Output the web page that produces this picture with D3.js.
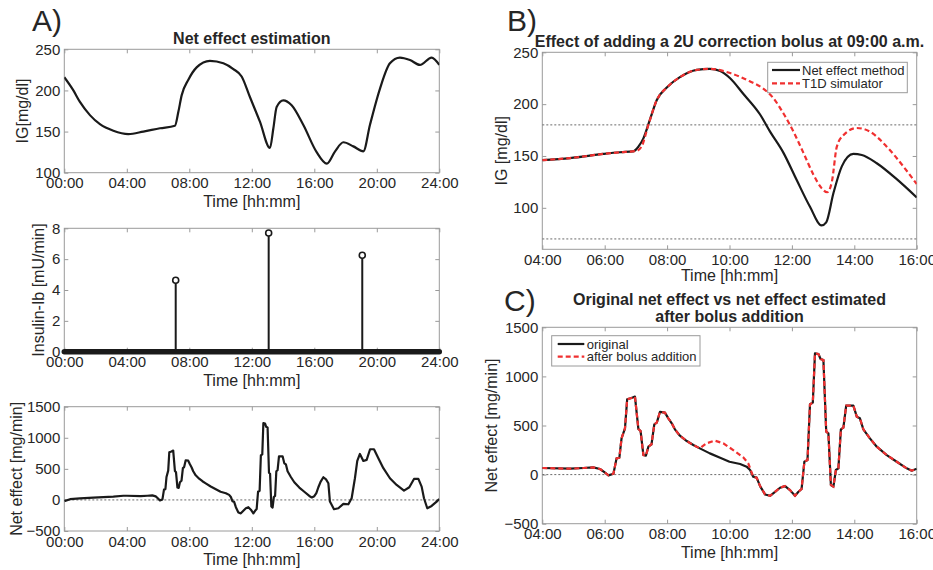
<!DOCTYPE html>
<html>
<head>
<meta charset="utf-8">
<script src="https://cdn.jsdelivr.net/npm/d3@7/dist/d3.min.js"></script>
<style>
  html, body { margin: 0; padding: 0; background: #fff; }
  svg { display: block; font-family: "Liberation Sans", Arial, Helvetica, sans-serif; }
</style>
</head>
<body>
<svg id="chart" width="933" height="570"></svg>
<script>
// ---------------- DATA ----------------
// Panel A (top): interstitial glucose over 24 h
const igTime  = [0, 0.58, 1.0, 1.64, 2.28, 3.14, 4.1, 5.06, 6.12, 7.08, 7.3, 7.51, 7.94, 8.47, 9.32, 10.18, 10.82, 11.35, 11.88, 12.52, 13.16, 13.38, 13.59, 14.02, 14.55, 15.3, 16.15, 16.8, 17.33, 17.86, 18.5, 19.14, 19.56, 20.2, 20.84, 21.48, 22.12, 22.76, 23.51, 24];
const igValue = [216, 200, 186, 170, 159, 151, 147, 150, 154, 157, 174, 194, 213, 228, 236, 233, 226, 217, 192, 162, 130, 154, 180, 188, 182, 158, 125, 111, 126, 137, 132, 126, 158, 202, 233, 240, 237, 231, 240, 231];

// Panel A (middle): insulin boluses (stems)
const insulinTime  = [7.13, 13.08, 19.07];
const insulinValue = [4.63, 7.7, 6.25];
const insulinZeroSpan = [0, 24];

// Panel A (bottom) & C: net effect (original)
const netTime = [0, 0.37, 1.0, 1.86, 2.5, 3.14, 3.78, 4.0, 4.89, 5.31, 5.63, 5.85, 6.0, 6.12, 6.28, 6.38, 6.47, 6.54, 6.65, 6.72, 6.86, 6.97, 7.08, 7.15, 7.24, 7.32, 7.4, 7.5, 7.59, 7.67, 7.77, 7.93, 8.04, 8.15, 8.25, 8.41, 8.63, 8.84, 9.05, 9.37, 9.7, 10.0, 10.34, 10.55, 10.66, 10.76, 10.87, 10.98, 11.14, 11.3, 11.46, 11.62, 11.78, 11.94, 12.1, 12.21, 12.31, 12.4, 12.5, 12.58, 12.67, 12.74, 12.85, 12.92, 13.01, 13.1, 13.17, 13.25, 13.33, 13.41, 13.49, 13.57, 13.65, 13.74, 13.97, 14.08, 14.18, 14.29, 14.5, 14.72, 15.04, 15.36, 15.68, 15.84, 16.0, 16.13, 16.26, 16.4, 16.58, 16.75, 16.9, 17.0, 17.26, 17.54, 17.86, 18.18, 18.39, 18.6, 18.75, 18.92, 19.14, 19.35, 19.57, 19.82, 20.1, 20.42, 20.84, 21.27, 21.74, 22.08, 22.38, 22.66, 22.87, 23.02, 23.23, 23.51, 23.83, 24.0];
const netValue = [-20, 12, 25, 37, 45, 53, 67, 67, 60, 67, 74, 57, 23, -8, 9, 165, 172, 369, 471, 767, 780, 794, 464, 444, 199, 192, 284, 308, 512, 529, 638, 631, 573, 522, 461, 396, 342, 301, 267, 216, 172, 131, 108, 81, 47, -21, -31, -117, -202, -216, -175, -134, -117, -158, -216, -175, -147, 131, 148, 716, 733, 1235, 1228, 1177, 1167, 437, 420, -106, -123, 47, 64, 461, 478, 702, 702, 590, 573, 461, 369, 284, 199, 131, 64, 40, 60, 110, 204, 290, 365, 330, 269, -27, -150, -134, -64, -70, 27, 349, 627, 740, 627, 644, 815, 815, 670, 510, 349, 241, 150, 204, 338, 338, 214, 27, -134, -97, -27, 16];

// Panel C: net effect after bolus addition (differs from original between ~09:00 and ~10:50)
const afterBumpTime  = [9.05, 9.26, 9.53, 9.8, 10.12, 10.44, 10.6, 10.74];
const afterBumpValue = [267, 318, 346, 318, 250, 176, 115, -4];

// Panel B: IG after adding a 2U correction bolus
const methodTime = [4, 4.89, 5.96, 6.49, 6.92, 7.08, 7.24, 7.45, 7.67, 7.99, 8.41, 8.95, 9.37, 9.7, 10.02, 10.44, 10.98, 11.3, 11.73, 12.15, 12.58, 12.95, 13.1, 13.33, 13.6, 13.97, 14.24, 14.72, 15.36, 16];
const methodIG   = [146, 148, 152, 153.6, 154.5, 159, 167, 185, 204, 216, 226, 233, 234, 232, 225, 210, 190, 173.5, 153, 127, 101, 83, 86, 114, 140, 152, 151, 143, 127.6, 110];
const simTime = [4, 4.89, 5.96, 6.49, 7.02, 7.18, 7.4, 7.67, 7.99, 8.41, 8.95, 9.37, 10.02, 10.65, 11.08, 11.4, 11.73, 12.05, 12.37, 12.69, 12.95, 13.13, 13.28, 13.44, 13.65, 14.08, 14.5, 15.04, 15.57, 16];
const simIG   = [146, 148, 152, 153.6, 155, 159, 180, 204, 216, 226, 233, 234, 230, 222, 215, 206, 191, 173.5, 153, 132, 119, 115, 125, 159, 170, 177, 173.5, 159, 140, 123];
const thresholds = [70, 180];

// Tick values / labels
const dayTicks = [0, 4, 8, 12, 16, 20, 24];
const dayTickLabels = ["00:00", "04:00", "08:00", "12:00", "16:00", "20:00", "24:00"];
const zoomTicks = [4, 6, 8, 10, 12, 14, 16];
const zoomTickLabels = ["04:00", "06:00", "08:00", "10:00", "12:00", "14:00", "16:00"];
const igTicks = [100, 150, 200, 250];
const insulinTicks = [0, 2, 4, 6, 8];
const netTicks = [-500, 0, 500, 1000, 1500];

// ---------------- DRAWING ----------------
const svg = d3.select("#chart");
svg.append("rect").attr("width", 933).attr("height", 570).attr("fill", "#fff");

const TXT = "#262626", FRAME = "#9a9a9a", RED = "#f03030";
let clipId = 0;

function panel(o) {
  const x = d3.scaleLinear().domain(o.xDomain).range([o.left, o.right]);
  const y = d3.scaleLinear().domain(o.yDomain).range([o.bottom, o.top]);
  const g = svg.append("g");
  const fmt = d => o.xLabels[o.xTicks.indexOf(d)];
  const ax = (gen, tr) => {
    const a = g.append("g").attr("transform", tr).call(gen);
    a.select(".domain").remove();
    a.selectAll(".tick line").attr("stroke", FRAME);
    a.selectAll("text").attr("fill", TXT).attr("font-size", 15).attr("font-family", null);
    return a;
  };
  ax(d3.axisBottom(x).tickValues(o.xTicks).tickFormat(fmt).tickSize(-4).tickPadding(5), `translate(0,${o.bottom})`);
  ax(d3.axisTop(x).tickValues(o.xTicks).tickFormat("").tickSize(-4), `translate(0,${o.top})`);
  ax(d3.axisLeft(y).tickValues(o.yTicks).tickFormat(d3.format("d")).tickSize(-4).tickPadding(4), `translate(${o.left},0)`);
  ax(d3.axisRight(y).tickValues(o.yTicks).tickFormat("").tickSize(-4), `translate(${o.right},0)`);
  g.append("rect").attr("x", o.left).attr("y", o.top).attr("width", o.right - o.left).attr("height", o.bottom - o.top)
    .attr("fill", "none").attr("stroke", FRAME).attr("stroke-width", 1);
  // labels
  g.append("text").attr("x", (o.left + o.right) / 2).attr("y", o.bottom + o.xlabOff).attr("text-anchor", "middle")
    .attr("font-size", 16).attr("fill", TXT).text("Time [hh:mm]");
  g.append("text").attr("transform", `translate(${o.ylabX},${(o.top + o.bottom) / 2}) rotate(-90)`).attr("text-anchor", "middle")
    .attr("font-size", 16).attr("fill", TXT).text(o.ylabel);
  const id = "clip" + (clipId++);
  svg.append("clipPath").attr("id", id).append("rect").attr("x", o.left).attr("y", o.top - 2)
    .attr("width", o.right - o.left).attr("height", o.bottom - o.top + 4);
  const plot = g.append("g").attr("clip-path", `url(#${id})`);
  return { x, y, g, plot };
}

const A = { left: 64.3, right: 439.3 };
const BC = { left: 542.3, right: 916.7 };

// ---- Panel A top ----
const p1 = panel({ ...A, top: 49.3, bottom: 172.7, xDomain: [0, 24], yDomain: [100, 250], xTicks: dayTicks, xLabels: dayTickLabels,
  yTicks: igTicks, ylabel: "IG[mg/dl]", ylabX: 28, xlabOff: 34 });
p1.plot.append("path").datum(igTime.map((t, i) => [t, igValue[i]]))
  .attr("fill", "none").attr("stroke", "#1a1a1a").attr("stroke-width", 2.2)
  .attr("d", d3.line().x(d => p1.x(d[0])).y(d => p1.y(d[1])).curve(d3.curveMonotoneX));
svg.append("text").attr("x", 251.8).attr("y", 44).attr("text-anchor", "middle").attr("font-size", 16)
  .attr("font-weight", "bold").attr("fill", TXT).text("Net effect estimation");

// ---- Panel A middle ----
const p2 = panel({ ...A, top: 228.3, bottom: 351.7, xDomain: [0, 24], yDomain: [0, 8], xTicks: dayTicks, xLabels: dayTickLabels,
  yTicks: insulinTicks, ylabel: "Insulin-Ib [mU/min]", ylabX: 44, xlabOff: 34 });
p2.g.append("line").attr("x1", p2.x(insulinZeroSpan[0])).attr("x2", p2.x(insulinZeroSpan[1]))
  .attr("y1", p2.y(0)).attr("y2", p2.y(0)).attr("stroke", "#1a1a1a").attr("stroke-width", 5.5).attr("stroke-linecap", "round");
insulinTime.forEach((t, i) => {
  p2.g.append("line").attr("x1", p2.x(t)).attr("x2", p2.x(t)).attr("y1", p2.y(0)).attr("y2", p2.y(insulinValue[i]))
    .attr("stroke", "#1a1a1a").attr("stroke-width", 2);
  p2.g.append("circle").attr("cx", p2.x(t)).attr("cy", p2.y(insulinValue[i])).attr("r", 3)
    .attr("fill", "#fff").attr("stroke", "#1a1a1a").attr("stroke-width", 1.6);
});

// ---- Panel A bottom ----
const p3 = panel({ ...A, top: 406.7, bottom: 531, xDomain: [0, 24], yDomain: [-500, 1500], xTicks: dayTicks, xLabels: dayTickLabels,
  yTicks: netTicks, ylabel: "Net effect [mg/min]", ylabX: 22, xlabOff: 34 });
p3.plot.append("line").attr("x1", p3.x(0)).attr("x2", p3.x(24)).attr("y1", p3.y(0)).attr("y2", p3.y(0))
  .attr("stroke", "#444").attr("stroke-width", 0.8).attr("stroke-dasharray", "2,2");
const netData = netTime.map((t, i) => [t, netValue[i]]);
p3.plot.append("path").datum(netData).attr("fill", "none").attr("stroke", "#1a1a1a").attr("stroke-width", 2.2)
  .attr("stroke-linejoin", "round")
  .attr("d", d3.line().x(d => p3.x(d[0])).y(d => p3.y(d[1])));

// ---- Panel B ----
const pB = panel({ ...BC, top: 52.3, bottom: 249.3, xDomain: [4, 16], yDomain: [60, 250], xTicks: zoomTicks, xLabels: zoomTickLabels,
  yTicks: igTicks, ylabel: "IG [mg/dl]", ylabX: 506.5, xlabOff: 32 });
thresholds.forEach(v => {
  pB.plot.append("line").attr("x1", pB.x(4)).attr("x2", pB.x(16)).attr("y1", pB.y(v)).attr("y2", pB.y(v))
    .attr("stroke", "#444").attr("stroke-width", 0.8).attr("stroke-dasharray", "2,2");
});
const lineB = d3.line().x(d => pB.x(d[0])).y(d => pB.y(d[1])).curve(d3.curveMonotoneX);
pB.plot.append("path").datum(methodTime.map((t, i) => [t, methodIG[i]])).attr("fill", "none")
  .attr("stroke", "#1a1a1a").attr("stroke-width", 2.2).attr("d", lineB);
pB.plot.append("path").datum(simTime.map((t, i) => [t, simIG[i]])).attr("fill", "none")
  .attr("stroke", RED).attr("stroke-width", 2.2).attr("stroke-dasharray", "5,3").attr("d", lineB);
svg.append("text").attr("x", 729.5).attr("y", 47).attr("text-anchor", "middle").attr("font-size", 16)
  .attr("font-weight", "bold").attr("fill", TXT).text("Effect of adding a 2U correction bolus at 09:00 a.m.");
// legend B
const lgB = svg.append("g");
lgB.append("rect").attr("x", 767.7).attr("y", 62.3).attr("width", 139.6).attr("height", 30.4).attr("fill", "#fff").attr("stroke", FRAME);
lgB.append("line").attr("x1", 772).attr("x2", 800).attr("y1", 70).attr("y2", 70).attr("stroke", "#1a1a1a").attr("stroke-width", 2.2);
lgB.append("line").attr("x1", 772).attr("x2", 800).attr("y1", 83.3).attr("y2", 83.3).attr("stroke", RED).attr("stroke-width", 2.2).attr("stroke-dasharray", "5,3");
lgB.append("text").attr("x", 802).attr("y", 74.5).attr("font-size", 13).attr("fill", TXT).text("Net effect method");
lgB.append("text").attr("x", 802).attr("y", 87.8).attr("font-size", 13).attr("fill", TXT).text("T1D simulator");

// ---- Panel C ----
const pC = panel({ ...BC, top: 327.3, bottom: 523.7, xDomain: [4, 16], yDomain: [-500, 1500], xTicks: zoomTicks, xLabels: zoomTickLabels,
  yTicks: netTicks, ylabel: "Net effect [mg/min]", ylabX: 497, xlabOff: 34 });
pC.plot.append("line").attr("x1", pC.x(4)).attr("x2", pC.x(16)).attr("y1", pC.y(0)).attr("y2", pC.y(0))
  .attr("stroke", "#444").attr("stroke-width", 0.8).attr("stroke-dasharray", "2,2");
const netC = netData.filter(d => d[0] >= 4 && d[0] <= 16);
const afterC = netC.filter(d => d[0] < afterBumpTime[0])
  .concat(afterBumpTime.map((t, i) => [t, afterBumpValue[i]]))
  .concat(netC.filter(d => d[0] > afterBumpTime[afterBumpTime.length - 1]));
const lineC = d3.line().x(d => pC.x(d[0])).y(d => pC.y(d[1]));
pC.plot.append("path").datum(netC).attr("fill", "none").attr("stroke", "#1a1a1a").attr("stroke-width", 2.2)
  .attr("stroke-linejoin", "round").attr("d", lineC);
pC.plot.append("path").datum(afterC).attr("fill", "none").attr("stroke", RED).attr("stroke-width", 2.2)
  .attr("stroke-dasharray", "5,3").attr("d", lineC);
svg.append("text").attr("x", 729.5).attr("y", 305).attr("text-anchor", "middle").attr("font-size", 16)
  .attr("font-weight", "bold").attr("fill", TXT).text("Original net effect vs net effect estimated");
svg.append("text").attr("x", 729.5).attr("y", 322).attr("text-anchor", "middle").attr("font-size", 16)
  .attr("font-weight", "bold").attr("fill", TXT).text("after bolus addition");
// legend C
const lgC = svg.append("g");
lgC.append("rect").attr("x", 551.7).attr("y", 335.7).attr("width", 148.3).attr("height", 30.3).attr("fill", "#fff").attr("stroke", FRAME);
lgC.append("line").attr("x1", 557.7).attr("x2", 584.3).attr("y1", 344).attr("y2", 344).attr("stroke", "#1a1a1a").attr("stroke-width", 2.2);
lgC.append("line").attr("x1", 557.7).attr("x2", 584.3).attr("y1", 356.7).attr("y2", 356.7).attr("stroke", RED).attr("stroke-width", 2.2).attr("stroke-dasharray", "5,3");
lgC.append("text").attr("x", 586.7).attr("y", 348.5).attr("font-size", 13).attr("fill", TXT).text("original");
lgC.append("text").attr("x", 586.7).attr("y", 361.2).attr("font-size", 13).attr("fill", TXT).text("after bolus addition");

// ---- Panel letters ----
svg.append("text").attr("x", 32).attr("y", 31).attr("font-size", 30).attr("fill", TXT).text("A)");
svg.append("text").attr("x", 507).attr("y", 30.7).attr("font-size", 30).attr("fill", TXT).text("B)");
svg.append("text").attr("x", 504).attr("y", 311).attr("font-size", 30).attr("fill", TXT).text("C)");
</script>
</body>
</html>
